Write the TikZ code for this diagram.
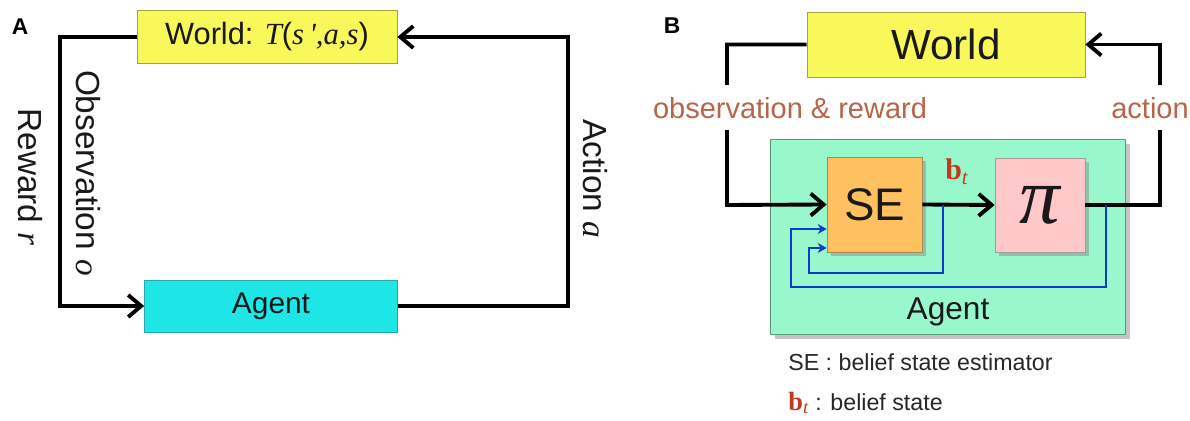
\documentclass[tikz,border=0pt]{standalone}
\usepackage{fontspec}
\setmainfont{Liberation Sans}
\newfontfamily\timesfont{Liberation Serif}
\usetikzlibrary{arrows.meta, shadows}
\definecolor{worldyellow}{HTML}{F8F85A}
\definecolor{worldedge}{HTML}{A8A040}
\definecolor{agentcyan}{HTML}{1EE6E6}
\definecolor{agentcyanedge}{HTML}{2AA8A8}
\definecolor{agentgreen}{HTML}{98F8CC}
\definecolor{agentgreenedge}{HTML}{5A9A78}
\definecolor{seorange}{HTML}{FFC060}
\definecolor{seedge}{HTML}{A88A50}
\definecolor{pipink}{HTML}{FFC8C8}
\definecolor{piedge}{HTML}{A89898}
\definecolor{labelbrown}{HTML}{B86448}
\definecolor{beliefred}{HTML}{C03A20}
\definecolor{loopblue}{HTML}{0A3CC8}
\newcommand\tvar[1]{{\timesfont\itshape #1}}
\newcommand\beliefsym{{\timesfont\bfseries b}{\timesfont\itshape\textsubscript{t}}}
\tikzset{
	defaultbox/.style={
			draw,
			thin,
			inner sep=0pt,
			text=black!90
		},
	worldnode/.style={
			defaultbox,
			draw=worldedge,
			fill=worldyellow
		},
	agentAnode/.style={
			defaultbox,
			draw=agentcyanedge,
			fill=agentcyan,
			font=\fontsize{17}{20}\selectfont
		},
	agentBnode/.style={
			defaultbox,
			draw=agentgreenedge,
			fill=agentgreen,
			drop shadow={shadow xshift=3pt, shadow yshift=-3pt, fill=black!45}
		},
	innernode/.style={
			defaultbox,
			minimum width=1.9cm,
			minimum height=1.9cm,
			drop shadow={shadow xshift=2.5pt, shadow yshift=-2.5pt, fill=black!45}
		},
	sidelabel/.style={
			rotate=-90,
			inner sep=1pt,
			text=black!90,
			font=\fontsize{19}{22}\selectfont
		},
	flowlabel/.style={
			fill=white,
			inner sep=1pt,
			minimum height=0.9cm,
			text=labelbrown,
			font=\fontsize{16.5}{19}\selectfont
		},
	legendtext/.style={
			anchor=west,
			inner sep=0pt,
			text=black!85,
			font=\fontsize{13.2}{16}\selectfont
		},
	panellabel/.style={
			inner sep=0pt,
			font=\bfseries\fontsize{13}{15}\selectfont
		},
	flowline/.style={
			line width=2.2pt,
			-{Straight Barb[length=2.6mm, width=4.4mm]}
		},
	loopline/.style={
			line width=1.6pt,
			loopblue,
			-{Stealth[length=1.8mm, width=2mm]}
		}
}

\begin{document}
\begin{tikzpicture}[x=0.02cm, y=-0.02cm]
\useasboundingbox (0,0) rectangle (1190,421);

\node[panellabel] (labA) at (20,27) { A };
\node[worldnode, minimum width=5.2cm, minimum height=1.06cm, font=\fontsize{17.5}{20}\selectfont] (worldA) at (267,37) { World: \tvar{T}(\tvar{s\,',a,s}) };
\node[agentAnode, minimum width=5.06cm, minimum height=1.04cm] (agentA) at (271,306) { Agent };
\coordinate (turnAL) at (60,306);
\coordinate (turnAR) at (568,306);

\draw[flowline] (worldA.west) -| (turnAL) -- (agentA.west);
\draw[flowline] (agentA.east) -- (turnAR) |- (worldA.east);

\node[sidelabel] (rewardlab) at (30,177) { Reward \tvar{r} };
\node[sidelabel] (obslab) at (88,173) { Observation \tvar{o} };
\node[sidelabel] (actlab) at (595,179) { Action \tvar{a} };

\node[panellabel] (labB) at (672,26) { B };
\node[worldnode, minimum width=5.56cm, minimum height=1.3cm, font=\fontsize{24}{28}\selectfont] (worldB) at (946,44.5) { World };
\node[agentBnode, minimum width=7.1cm, minimum height=3.9cm] (agentB) at (947.5,236.5) {};
\node[text=black!90, font=\fontsize{18}{21}\selectfont] (agenttext) at (948,312) { Agent };
\node[innernode, fill=seorange, draw=seedge, font=\fontsize{26}{30}\selectfont] (sebox) at (874.5,204.5) { SE };
\node[innernode, fill=pipink, draw=piedge, minimum width=1.8cm, minimum height=1.88cm, font=\timesfont\itshape\fontsize{46}{46}\selectfont] (pibox) at (1040,205) { π };
\coordinate (turnBL) at (727,205);
\coordinate (turnBR) at (1160,205);

\draw[flowline] (worldB.west) -| (turnBL) -- (sebox.west);
\draw[flowline] (pibox.east) -- (turnBR) |- (worldB.east);
\draw[flowline] (sebox.east) -- (pibox.west);

\node[flowlabel] (obsrew) at (790,108) { observation \& reward };
\node[flowlabel] (actB) at (1150,108) { action };
\node[text=beliefred, inner sep=0pt, font=\fontsize{17}{20}\selectfont] (btlab) at (957,172) { \beliefsym };

\coordinate (tapSE) at (943,205);
\coordinate (tapPi) at (1106,205);
\coordinate (loopSE) at (809,273);
\coordinate (loopPi) at (791,287);
\draw[loopline] (tapSE) |- (loopSE) |- ([yshift=-0.87cm]sebox.west);
\draw[loopline] (tapPi) |- (loopPi) |- ([yshift=-0.49cm]sebox.west);

\node[legendtext] (legSE) at (788,362) { SE : belief state estimator };
\node[legendtext] (legbt) at (788,403) { {\color{beliefred}\fontsize{15}{18}\selectfont\beliefsym} : belief state };
\end{tikzpicture}
\end{document}
